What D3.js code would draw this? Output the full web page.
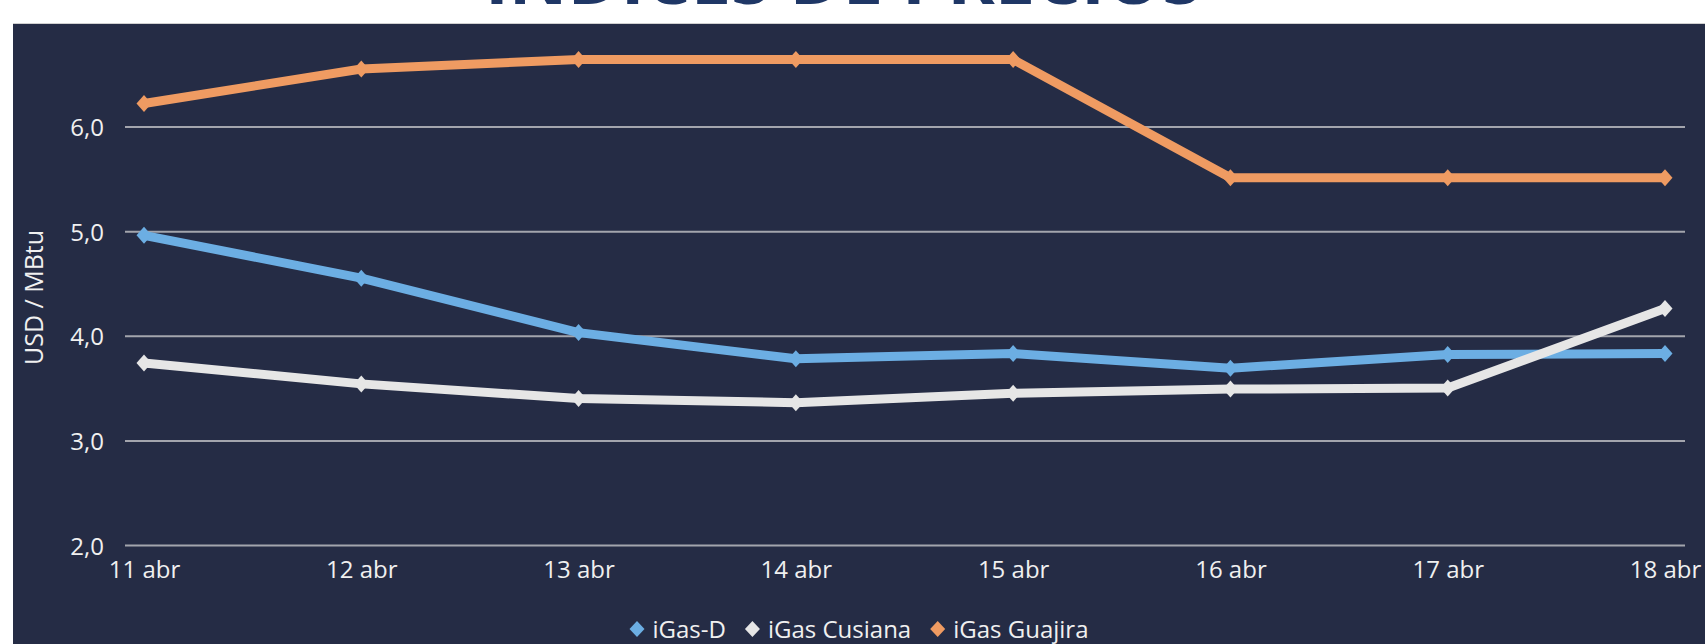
<!DOCTYPE html>
<html>
<head>
<meta charset="utf-8">
<script src="https://cdn.jsdelivr.net/npm/d3@7"></script>
<style>
  html, body { margin: 0; padding: 0; background: #ffffff; }
  svg { display: block; }
  text { font-family: "Open Sans", "Noto Sans", sans-serif; }
</style>
</head>
<body>
<svg id="chart" width="1705" height="644"></svg>
<script>
// ---- data ----
const categories = ["11 abr", "12 abr", "13 abr", "14 abr", "15 abr", "16 abr", "17 abr", "18 abr"];
const seriesNames = ["iGas-D", "iGas Cusiana", "iGas Guajira"];
const igasD       = [4.96, 4.55, 4.03, 3.78, 3.83, 3.69, 3.82, 3.83];
const igasCusiana = [3.74, 3.54, 3.40, 3.36, 3.45, 3.49, 3.50, 4.26];
const igasGuajira = [6.22, 6.55, 6.64, 6.64, 6.64, 5.51, 5.51, 5.51];
const yTicks = [2, 3, 4, 5, 6];
const title = "ÍNDICES DE PRECIOS";
const yTitle = "USD / MBtu";

const colors = ["#6caee3", "#e6e6e6", "#ef9b62"];
const seriesValues = [igasD, igasCusiana, igasGuajira];

// ---- layout ----
const W = 1705, H = 644;
const panel = { x: 13, y: 23 };
const plot = { left: 125, right: 1685, top: 126.5, bottom: 545 };
const svg = d3.select("#chart");

// title (mostly clipped above the top edge)
svg.append("text")
  .attr("x", 485).attr("y", 4)
  .attr("textLength", 717).attr("lengthAdjust", "spacingAndGlyphs")
  .attr("font-size", 72).attr("font-weight", 700)
  .attr("fill", "#1f3766")
  .text(title);

// dark panel
svg.append("rect")
  .attr("x", panel.x).attr("y", panel.y)
  .attr("width", W - panel.x).attr("height", H - panel.y)
  .attr("fill", "#252c45");
svg.append("line")
  .attr("x1", panel.x).attr("x2", W).attr("y1", panel.y + 0.5).attr("y2", panel.y + 0.5)
  .attr("stroke", "#d0d0d0").attr("stroke-width", 1);

// scales
const x = d3.scalePoint().domain(categories).range([144, 1665]);
const y = d3.scaleLinear().domain([2, 6]).range([plot.bottom, plot.top]);

// y axis with gridlines
const yAxis = d3.axisLeft(y)
  .tickValues(yTicks)
  .tickSize(-(plot.right - plot.left))
  .tickPadding(21)
  .tickFormat(d => d.toFixed(1).replace(".", ","));
const gy = svg.append("g").attr("transform", `translate(${plot.left},0)`).call(yAxis);
gy.select(".domain").remove();
gy.selectAll(".tick line").attr("stroke", "#a3a5ad").attr("stroke-width", 2);
gy.selectAll(".tick text")
  .attr("fill", "#f0f0f0").attr("font-size", 24)
  .attr("dy", null).attr("y", 9);

// x axis
const xAxis = d3.axisBottom(x).tickSize(0).tickPadding(0);
const gx = svg.append("g").attr("transform", `translate(0,${plot.bottom})`).call(xAxis);
gx.select(".domain").remove();
gx.selectAll(".tick text")
  .attr("fill", "#f0f0f0").attr("font-size", 24)
  .attr("dy", null).attr("y", 33);

// y title
svg.append("text")
  .attr("transform", `translate(43,297.5) rotate(-90)`)
  .attr("text-anchor", "middle")
  .attr("fill", "#f0f0f0").attr("font-size", 25)
  .text(yTitle);

// lines + markers
const diamond = (hw, hh) => `M0,${-hh}L${hw},0L0,${hh}L${-hw},0Z`;
const line = d3.line().x((d, i) => x(categories[i])).y(d => y(d));
seriesValues.forEach((vals, si) => {
  const g = svg.append("g");
  g.append("path")
    .attr("d", line(vals))
    .attr("fill", "none")
    .attr("stroke", colors[si])
    .attr("stroke-width", 9)
    .attr("stroke-linejoin", "round");
  g.selectAll("path.m").data(vals).enter().append("path")
    .attr("class", "m")
    .attr("d", diamond(7.5, 8.5))
    .attr("transform", (d, i) => `translate(${x(categories[i])},${y(d)})`)
    .attr("fill", colors[si]);
});

// legend
const lg = svg.append("g");
let cx = 0;
seriesNames.forEach((name, i) => {
  const item = lg.append("g").attr("transform", `translate(${cx},0)`);
  item.append("path").attr("d", diamond(7.5, 8)).attr("transform", "translate(7.5,629)").attr("fill", colors[i]);
  const t = item.append("text").attr("x", 23).attr("y", 638)
    .attr("fill", "#f0f0f0").attr("font-size", 24).text(name);
  const w = t.node().getComputedTextLength();
  cx += 23 + w + 19;
});
const totalW = cx - 19;
lg.attr("transform", `translate(${859 - totalW / 2},0)`);
</script>
</body>
</html>
